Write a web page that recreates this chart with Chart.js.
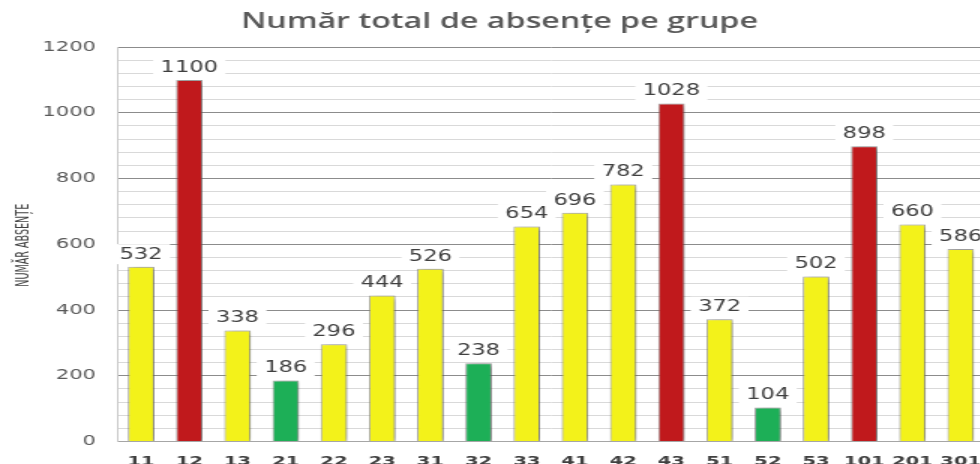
<!DOCTYPE html>
<html>
<head>
<meta charset="utf-8">
<script src="https://cdn.jsdelivr.net/npm/chart.js@4/dist/chart.umd.min.js"></script>
<style>
html, body { margin: 0; padding: 0; background: #fff; overflow: hidden; }
#wrap { width: 666px; height: 464px; transform: scaleX(1.5); transform-origin: 0 0; }
</style>
</head>
<body>
<div id="wrap"><canvas id="absente" width="666" height="464"></canvas></div>
<script>
const grupe = ['11', '12', '13', '21', '22', '23', '31', '32', '33', '41', '42', '43', '51', '52', '53', '101', '201', '301'];
const absente = [532, 1100, 338, 186, 296, 444, 526, 238, 654, 696, 782, 1028, 372, 104, 502, 898, 660, 586];
const pragMare = 800;
const pragMic = 250;
const titluY = 'NUMĂR ABSENȚE';

const culoare = v => v > pragMare ? '#c0191c' : (v < pragMic ? '#1daf57' : '#f3f21a');

// umbra sub bare
const umbra = {
    id: 'umbra',
    beforeDatasetsDraw(chart) {
        const c = chart.ctx;
        c.save();
        c.shadowColor = 'rgba(0, 0, 0, 0.4)';
        c.shadowBlur = 5;
        c.shadowOffsetX = 2;
        c.shadowOffsetY = 1;
    },
    afterDatasetsDraw(chart) {
        chart.ctx.restore();
    }
};

// etichete cu fundal alb deasupra barelor + titlul axei Y (ingustat)
const etichete = {
    id: 'etichete',
    afterDatasetsDraw(chart) {
        const c = chart.ctx;
        const meta = chart.getDatasetMeta(0);
        c.save();
        c.font = '15px "DejaVu Sans"';
        c.textAlign = 'center';
        c.textBaseline = 'middle';
        meta.data.forEach((bar, i) => {
            const txt = String(absente[i]);
            const w = c.measureText(txt).width + 10;
            const y = bar.y - 12.5;
            c.fillStyle = '#ffffff';
            c.fillRect(bar.x - w / 2, y - 10, w, 20);
            c.fillStyle = '#404040';
            c.fillText(txt, bar.x, y + 0.5);
        });
        c.restore();

        const mijloc = (chart.chartArea.top + chart.chartArea.bottom) / 2;
        c.save();
        c.font = '12.5px "DejaVu Sans Condensed", "Liberation Sans"';
        const lung = c.measureText(titluY).width;
        c.translate(16, mijloc + 1);
        c.rotate(-Math.PI / 2);
        c.scale(83 / lung, 1);
        c.textAlign = 'center';
        c.textBaseline = 'middle';
        c.fillStyle = '#404040';
        c.fillText(titluY, 0, 0);
        c.restore();
    }
};

const ctx = document.getElementById('absente').getContext('2d');
const chartAbsente = new Chart(ctx, {
    type: 'bar',
    data: {
        labels: grupe,
        datasets: [{
            label: 'Număr absențe',
            data: absente,
            backgroundColor: absente.map(culoare),
            borderColor: 'rgba(140, 140, 140, 0.7)',
            borderWidth: 1,
            barPercentage: 0.55,
            categoryPercentage: 1
        }]
    },
    options: {
        responsive: false,
        animation: false,
        layout: { padding: { left: 0, right: 0, top: 0, bottom: -8 } },
        plugins: {
            legend: { display: false },
            tooltip: { enabled: false },
            title: {
                display: true,
                text: 'Număr total de absențe pe grupe',
                color: '#595959',
                font: { family: '"Open Sans"', size: 21.5, weight: 600 },
                padding: { top: 9, bottom: 12.2 }
            }
        },
        scales: {
            x: {
                grid: { display: false, drawTicks: false },
                border: { color: '#a6a6a6' },
                ticks: {
                    color: '#404040',
                    padding: 12,
                    maxRotation: 0,
                    minRotation: 0,
                    autoSkip: false,
                    font: { family: '"DejaVu Sans"', size: 13, weight: 'bold' }
                },
                afterFit(scale) { scale.height = 25; }
            },
            y: {
                min: 0,
                max: 1200,
                ticks: {
                    stepSize: 40,
                    autoSkip: false,
                    padding: 14,
                    color: '#595959',
                    font: { family: '"DejaVu Sans"', size: 14 },
                    callback: v => v % 200 === 0 ? v : ''
                },
                grid: {
                    drawTicks: false,
                    color: c => c.tick && c.tick.value % 200 === 0 ? '#8c8c8c' : '#d9d9d9'
                },
                border: { color: '#c8c8c8' },
                afterFit(scale) { scale.width = 78; }
            }
        }
    },
    plugins: [umbra, etichete]
});
</script>
</body>
</html>
